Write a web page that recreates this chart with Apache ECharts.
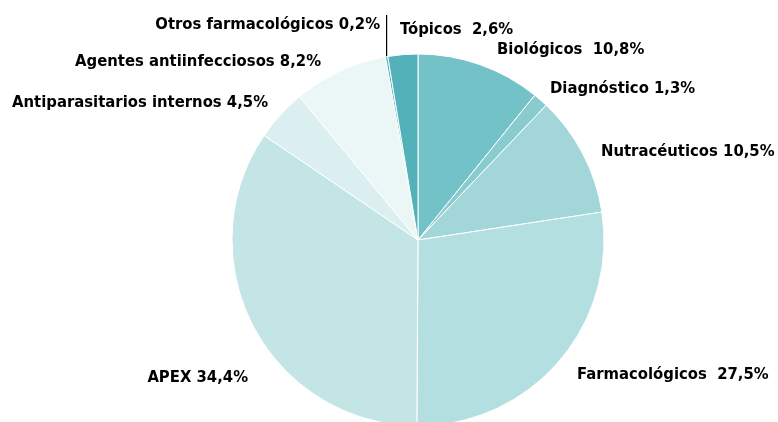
<!DOCTYPE html>
<html>
<head>
<meta charset="utf-8">
<script src="https://cdn.jsdelivr.net/npm/echarts@6/dist/echarts.min.js"></script>
<style>
  html, body { margin: 0; padding: 0; background: #fff; }
  #chart { width: 778px; height: 422px; }
</style>
</head>
<body>
<div id="chart"></div>
<script>
// categorias y porcentajes (sentido horario desde las 12)
const categories = ['Biológicos', 'Diagnóstico', 'Nutracéuticos', 'Farmacológicos', 'APEX',
  'Antiparasitarios internos', 'Agentes antiinfecciosos', 'Otros farmacológicos', 'Tópicos']
const values = [10.8, 1.3, 10.5, 27.5, 34.4, 4.5, 8.2, 0.2, 2.6]
const colors = ['#73c2c7', '#8acbcf', '#a2d6d9', '#b3dfe0', '#c3e5e6', '#dbeff0', '#ebf6f7', '#52b1b9', '#52b1b9']
const gaps = ['  ', ' ', ' ', '  ', ' ', ' ', ' ', ' ', '  ']

// donde va cada etiqueta
const labelPos = [
  { x: 497, y: 50, align: 'left' },
  { x: 550, y: 89, align: 'left' },
  { x: 601, y: 152, align: 'left' },
  { x: 577, y: 375, align: 'left' },
  { x: 248, y: 378, align: 'right' },
  { x: 268, y: 103, align: 'right' },
  { x: 321, y: 62, align: 'right' },
  { x: 380, y: 25, align: 'right' },
  { x: 400, y: 30, align: 'left' }
]

const chart = echarts.init(document.getElementById('chart'))

const option = {
  animation: false,
  series: [{
    type: 'pie',
    center: [418, 240],
    radius: 186,
    startAngle: 90,
    clockwise: true,
    itemStyle: { borderColor: '#fff', borderWidth: 1 },
    label: {
      show: true,
      position: 'outside',
      overflow: 'none',
      color: '#000',
      fontFamily: '"Liberation Sans Narrow", "DejaVu Sans Condensed", sans-serif',
      fontWeight: 'bold',
      fontSize: 16.5,
      formatter: p => p.name + gaps[p.dataIndex] + p.value.toFixed(1).replace('.', ',') + '%'
    },
    labelLine: { show: false },
    labelLayout: function (params) {
      const pos = labelPos[params.dataIndex]
      const out = { x: pos.x, y: pos.y, align: pos.align, verticalAlign: 'middle', hideOverlap: false }
      // linea vertical para "Otros farmacológicos"
      if (params.dataIndex === 7 && params.labelLinePoints) {
        const p0 = params.labelLinePoints[0]
        out.labelLinePoints = [[p0[0], p0[1]], [p0[0], 15], [p0[0], 15]]
      }
      return out
    },
    data: categories.map((c, i) => ({
      name: c,
      value: values[i],
      itemStyle: { color: colors[i] },
      labelLine: i === 7 ? { show: true, lineStyle: { color: '#000', width: 1.2 } } : { show: false }
    }))
  }]
}

chart.setOption(option)
</script>
</body>
</html>
